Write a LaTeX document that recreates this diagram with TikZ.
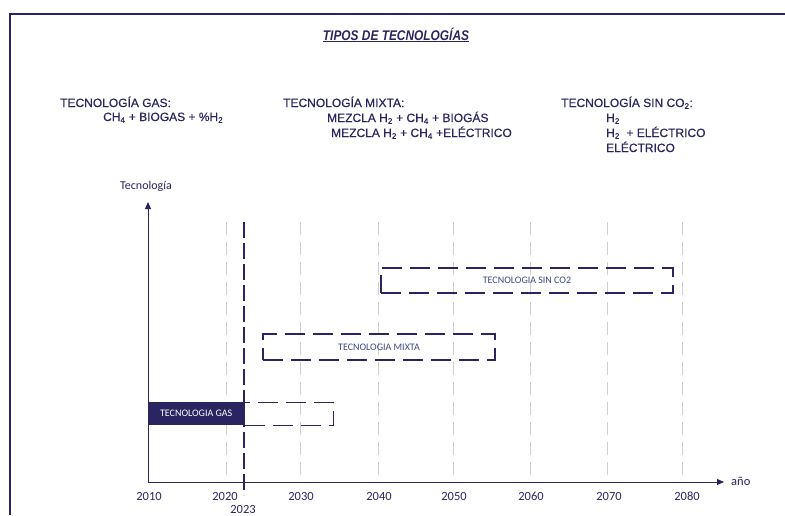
\documentclass[tikz,border=0pt]{standalone}
\usepackage{fontspec}
\setmainfont{Liberation Sans}
\newfontfamily\calfont{Carlito}
\newfontfamily\headfont[FakeBold=0.35]{Liberation Sans}
\newfontfamily\titlefont[FakeStretch=0.85]{Liberation Sans}
\usetikzlibrary{arrows.meta}
\definecolor{navy}{HTML}{2A2560}
\definecolor{boxtxt}{HTML}{3C4A7E}
\definecolor{gridgray}{HTML}{CFCFCF}
\begin{document}
\begin{tikzpicture}[x=1pt,y=-1pt,
  head/.style={anchor=base west,inner sep=0pt,font=\headfont\fontsize{12}{14}\selectfont,text=navy},
  yearlbl/.style={font=\calfont\fontsize{12.5}{14}\selectfont,text=navy,inner sep=0pt},
  gridln/.style={gridgray,line width=1pt,dash pattern=on 13pt off 7pt},
  nowln/.style={navy,line width=1.5pt,dash pattern=on 16pt off 5pt},
  plan/.style={draw=navy,line width=1.2pt,dash pattern=on 20pt off 8pt,inner sep=0pt},
  boxlbl/.style={font=\calfont\fontsize{10}{12}\selectfont,text=boxtxt},
  axisln/.style={navy,line width=1pt,-{Triangle[length=7pt,width=6pt]}}]
\useasboundingbox (0,0) rectangle (785,515);
\fill[white] (0,0) rectangle (785,515);
% frame
\coordinate (frtr) at (785,14);
\coordinate (frtl) at (9.5,14);
\coordinate (frbl) at (9.5,515);
\draw[navy,line width=2pt] (frtr) -- (frtl) -- (frbl);
% title
\node[font=\titlefont\bfseries\itshape\fontsize{14}{16}\selectfont,text=navy,inner sep=0pt] (title) at (396,35) {\underline{TIPOS DE TECNOLOGÍAS}};
% headings
\node[head] (gash) at (60,107) {TECNOLOGÍA GAS:};
\node[head] (gasd) at (103,121) {CH\textsubscript{4} + BIOGAS + \%H\textsubscript{2}};
\node[head] (mixh) at (283,107) {TECNOLOGÍA MIXTA:};
\node[head] (mixa) at (327,122) {MEZCLA H\textsubscript{2} + CH\textsubscript{4} + BIOGÁS};
\node[head] (mixb) at (331,137) {MEZCLA H\textsubscript{2} + CH\textsubscript{4} +ELÉCTRICO};
\node[head] (sinh) at (561,107) {TECNOLOGÍA SIN CO\textsubscript{2}:};
\node[head] (sina) at (606,122) {H\textsubscript{2}};
\node[head] (sinb) at (606,137) {H\textsubscript{2} \ + ELÉCTRICO};
\node[head] (sinc) at (606,152) {ELÉCTRICO};
% grid lines
\foreach \gx in {226,300,378,453,530,607,682}{
  \draw[gridln] (\gx,222) -- (\gx,482);
}
\coordinate (nowtop) at (244,222);
\coordinate (nowbot) at (244,495);
\draw[nowln] (nowtop) -- (nowbot);
% boxes
\node[plan,minimum width=292pt,minimum height=25pt] (sinbox) at (527,280.5) {};
\node[boxlbl] (sinlbl) at (sinbox.center) {TECNOLOGIA SIN CO2};
\node[plan,minimum width=232pt,minimum height=26pt] (mixbox) at (379,347) {};
\node[boxlbl] (mixlbl) at (mixbox.center) {TECNOLOGIA MIXTA};
\node[plan,minimum width=89pt,minimum height=23pt,anchor=north west] (gasext) at (244,402) {};
\node[fill=navy,minimum width=96pt,minimum height=23pt,inner sep=0pt,anchor=north west,
      text=white,font=\calfont\fontsize{10}{12}\selectfont] (gasbox) at (148,402) {TECNOLOGIA GAS};
% axes
\coordinate (orig) at (148,482);
\coordinate (ytip) at (148,202);
\coordinate (xtip) at (724,482);
\draw[axisln] (orig) -- (ytip);
\draw[axisln] (orig) -- (xtip);
\node[font=\calfont\fontsize{12}{14}\selectfont,text=navy,inner sep=0pt] (ylbl) at (146,186) {Tecnología};
\node[font=\calfont\fontsize{12.5}{14}\selectfont,text=navy,inner sep=0pt,anchor=west] (xlbl) at (731,481) {año};
% year labels
\node[yearlbl] (y2010) at (149,496) {2010};
\node[yearlbl] (y2020) at (225,496) {2020};
\node[yearlbl] (y2023) at (243,509) {2023};
\node[yearlbl] (y2030) at (301,496) {2030};
\node[yearlbl] (y2040) at (379,496) {2040};
\node[yearlbl] (y2050) at (454,496) {2050};
\node[yearlbl] (y2060) at (531,496) {2060};
\node[yearlbl] (y2070) at (609,496) {2070};
\node[yearlbl] (y2080) at (687,496) {2080};
\end{tikzpicture}
\end{document}
